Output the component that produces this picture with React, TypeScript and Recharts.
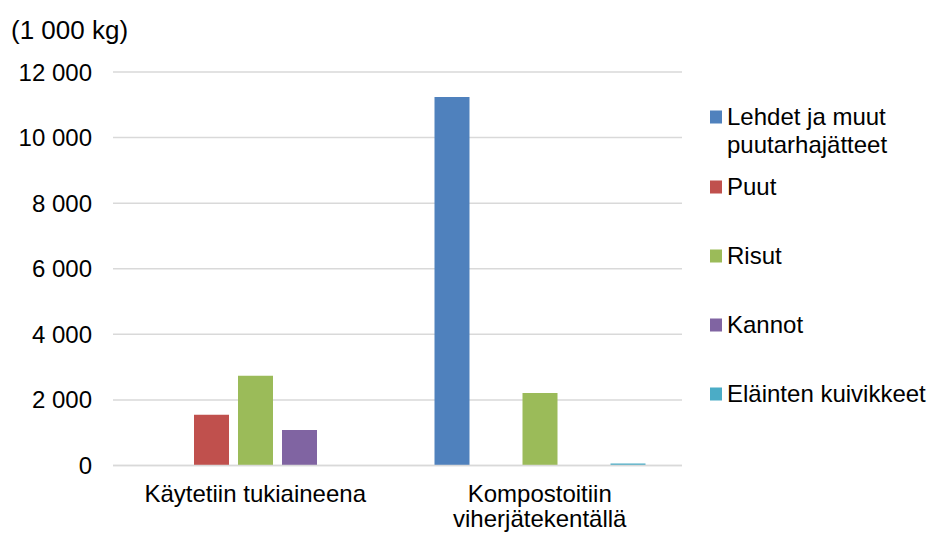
import React from "react";
import { BarChart, Bar, XAxis, YAxis, CartesianGrid, Legend } from "recharts";

// Categories (x axis) and the line breaks used for their labels
const categories = ["Käytetiin tukiaineena", "Kompostoitiin viherjätekentällä"];
const categoryLines = [["Käytetiin tukiaineena"], ["Kompostoitiin", "viherjätekentällä"]];

// Series values, one per category (1 000 kg)
const lehdet = [0, 11240];
const puut = [1550, 0];
const risut = [2740, 2210];
const kannot = [1080, 0];
const elainten = [0, 60];

const seriesNames = [
  ["Lehdet ja muut", "puutarhajätteet"],
  ["Puut"],
  ["Risut"],
  ["Kannot"],
  ["Eläinten kuivikkeet"],
];
const seriesKeys = ["lehdet", "puut", "risut", "kannot", "elainten"];
const seriesColors = ["#4f81bd", "#c0504d", "#9bbb59", "#8064a2", "#4bacc6"];

const yTicks = [0, 2000, 4000, 6000, 8000, 10000, 12000];

const data = categories.map((name, i) => ({
  name,
  lehdet: lehdet[i],
  puut: puut[i],
  risut: risut[i],
  kannot: kannot[i],
  elainten: elainten[i],
}));

const FONT = "'Liberation Sans', Arial, sans-serif";

const formatThousands = (v: number) =>
  String(v).replace(/\B(?=(\d{3})+(?!\d))/g, " ");

const CategoryTick = (props: any) => {
  const { x, y, index } = props;
  const lines = categoryLines[index] || [];
  return (
    <g>
      {lines.map((line: string, k: number) => (
        <text
          key={k}
          x={x}
          y={y + 28 + k * 25}
          textAnchor="middle"
          fontFamily={FONT}
          fontSize={24}
          fill="#000"
        >
          {line}
        </text>
      ))}
    </g>
  );
};

// Legend drawn as a vertical list to the right of the plot
const LegendContent = () => {
  const rowCenters = [117, 187, 256, 325, 394];
  return (
    <g>
      {seriesNames.map((lines, i) => (
        <g key={seriesKeys[i]}>
          <rect x={710} y={rowCenters[i] - 6.5} width={12} height={13} fill={seriesColors[i]} />
          {lines.map((line, k) => (
            <text
              key={k}
              x={727}
              y={rowCenters[i] + 8 + k * 28}
              fontFamily={FONT}
              fontSize={24}
              fill="#000"
            >
              {line}
            </text>
          ))}
        </g>
      ))}
    </g>
  );
};

export default function App() {
  return (
    <div style={{ position: "absolute", left: 0, top: 0, width: 928, height: 533, background: "#fff" }}>
      <BarChart
        width={928}
        height={533}
        data={data}
        margin={{ top: 72, right: 246, bottom: 0, left: 0 }}
        barSize={35}
        barGap={9}
      >
        <CartesianGrid vertical={false} stroke="#d9d9d9" strokeWidth={1.5} />
        <XAxis
          dataKey="name"
          height={67.5}
          axisLine={{ stroke: "#d9d9d9", strokeWidth: 1.5 }}
          tickLine={false}
          tick={<CategoryTick />}
          interval={0}
        />
        <YAxis
          width={113}
          domain={[0, 12000]}
          ticks={yTicks}
          axisLine={false}
          tickLine={false}
          tickSize={0}
          tickMargin={21}
          tickFormatter={formatThousands}
          tick={{ fontFamily: FONT, fontSize: 24, fill: "#000" }}
          label={{
            content: () => (
              <text x={11} y={39} fontFamily={FONT} fontSize={26} fill="#000">
                (1 000 kg)
              </text>
            ),
          }}
        />
        {seriesKeys.map((k, i) => (
          <Bar key={k} dataKey={k} fill={seriesColors[i]} isAnimationActive={false} />
        ))}
        <Legend content={() => null} />
      </BarChart>
      <svg
        width={928}
        height={533}
        style={{ position: "absolute", left: 0, top: 0, pointerEvents: "none" }}
      >
        <LegendContent />
      </svg>
    </div>
  );
}
